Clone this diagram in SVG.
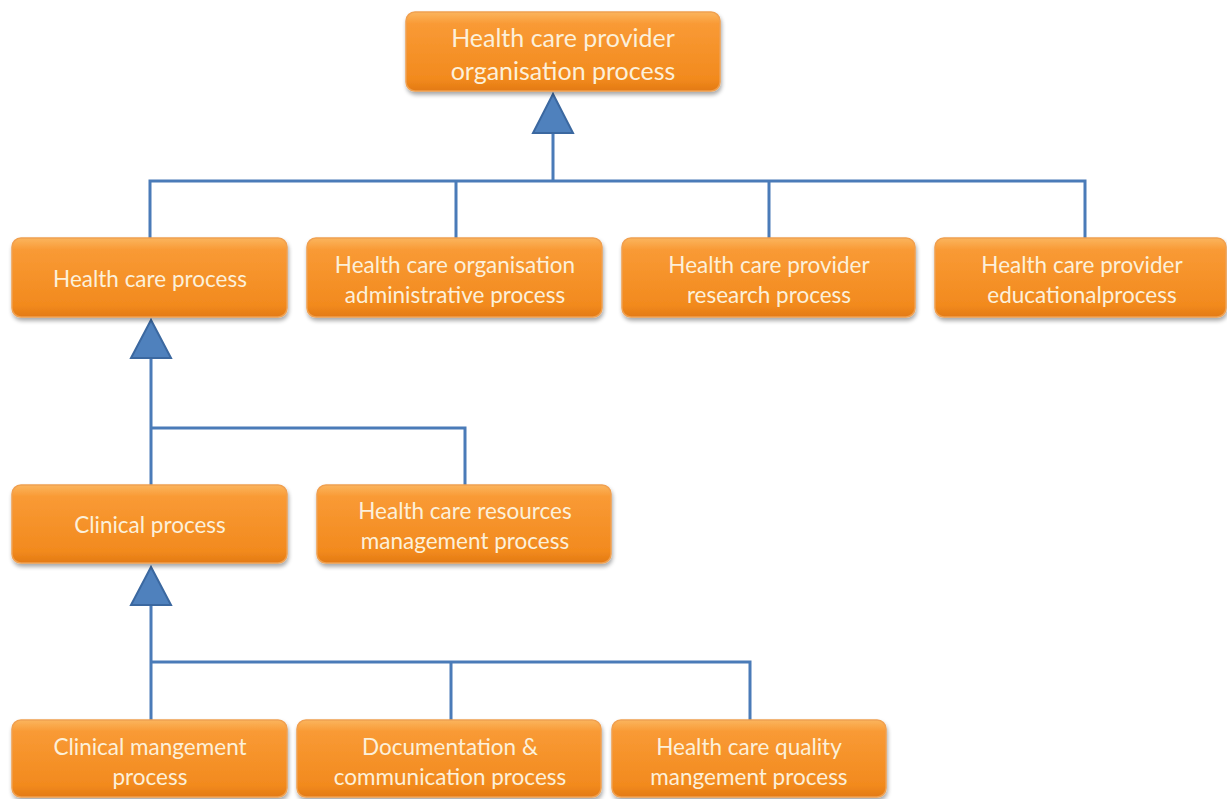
<svg xmlns="http://www.w3.org/2000/svg" width="1227" height="799" viewBox="0 0 1227 799">
<defs>
<linearGradient id="og" x1="0" y1="0" x2="0" y2="1">
<stop offset="0" stop-color="#fbb55e"/>
<stop offset="0.15" stop-color="#f99a35"/>
<stop offset="0.85" stop-color="#f28a1e"/>
<stop offset="1" stop-color="#e37a12"/>
</linearGradient>
<filter id="sh" x="-10%" y="-10%" width="120%" height="130%">
<feGaussianBlur in="SourceAlpha" stdDeviation="2"/>
<feOffset dx="1" dy="3" result="b"/>
<feComponentTransfer><feFuncA type="linear" slope="0.35"/></feComponentTransfer>
<feMerge><feMergeNode/><feMergeNode in="SourceGraphic"/></feMerge>
</filter>
</defs>
<style>
.box{fill:url(#og);stroke:#f0a050;stroke-width:1.5;filter:url(#sh)}
.t{font-family:Lato,"Open Sans",sans-serif;font-size:22.5px;fill:#fcf0da;text-anchor:middle;dominant-baseline:central}
.tb{font-size:25px}
.ln{fill:none;stroke:#4a7bb8;stroke-width:3}
.tri{fill:#4f81bd;stroke:#3b68a0;stroke-width:2;stroke-linejoin:miter}
</style>
<rect width="1227" height="799" fill="#ffffff"/>
<g id="connectors">
<path class="ln" d="M553 133V181M150 238V181H1085V238M456 181V238M769 181V238"/>
<polygon class="tri" points="553,94 533,133 573,133"/>
<path class="ln" d="M151 358V487M151 428H465V487"/>
<polygon class="tri" points="151,320 131,358 171,358"/>
<path class="ln" d="M151 605V722M151 662H750V722M451 662V722"/>
<polygon class="tri" points="151,567 131,605 171,605"/>
</g>
<g id="n-top"><rect class="box" x="406" y="12" width="314" height="79" rx="9"/><text class="t tb" x="563" y="37">Health care provider</text><text class="t tb" x="563" y="70">organisation process</text></g>
<g id="n-hcp"><rect class="box" x="12" y="238" width="275" height="79" rx="9"/><text class="t" x="150" y="278">Health care process</text></g>
<g id="n-admin"><rect class="box" x="307" y="238" width="295" height="79" rx="9"/><text class="t" x="455" y="264">Health care organisation</text><text class="t" x="455" y="294">administrative process</text></g>
<g id="n-research"><rect class="box" x="622" y="238" width="293" height="79" rx="9"/><text class="t" x="769" y="264">Health care provider</text><text class="t" x="769" y="294">research process</text></g>
<g id="n-edu"><rect class="box" x="935" y="238" width="291" height="79" rx="9"/><text class="t" x="1082" y="264">Health care provider</text><text class="t" x="1082" y="294">educationalprocess</text></g>
<g id="n-clinical"><rect class="box" x="12" y="485" width="275" height="78" rx="9"/><text class="t" x="150" y="524">Clinical process</text></g>
<g id="n-resources"><rect class="box" x="317" y="485" width="294" height="78" rx="9"/><text class="t" x="465" y="510">Health care resources</text><text class="t" x="465" y="540">management process</text></g>
<g id="n-cmgmt"><rect class="box" x="12" y="720" width="275" height="77" rx="9"/><text class="t" x="150" y="746">Clinical mangement</text><text class="t" x="150" y="776">process</text></g>
<g id="n-doc"><rect class="box" x="297" y="720" width="304" height="77" rx="9"/><text class="t" x="450" y="746">Documentation &amp;</text><text class="t" x="450" y="776">communication process</text></g>
<g id="n-quality"><rect class="box" x="612" y="720" width="274" height="77" rx="9"/><text class="t" x="749" y="746">Health care quality</text><text class="t" x="749" y="776">mangement process</text></g>
</svg>
